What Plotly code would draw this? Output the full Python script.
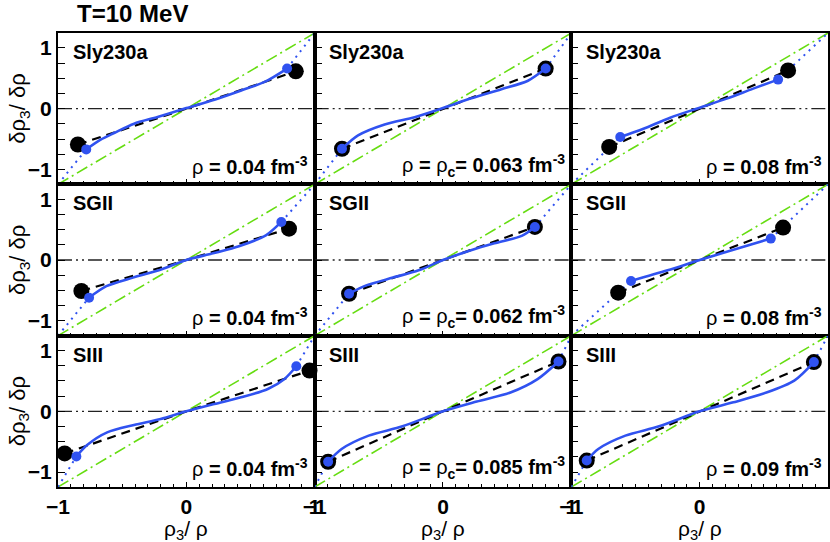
import plotly.graph_objects as go
from plotly.subplots import make_subplots

# --- panel labels ---
models = ["Sly230a", "SGII", "SIII"]
dens_text = [
    ["ρ <b>= 0.04 fm<sup>-3</sup></b>", "ρ <b>=</b> ρ<b><sub>c</sub>= 0.063 fm<sup>-3</sup></b>", "ρ <b>= 0.08 fm<sup>-3</sup></b>"],
    ["ρ <b>= 0.04 fm<sup>-3</sup></b>", "ρ <b>=</b> ρ<b><sub>c</sub>= 0.062 fm<sup>-3</sup></b>", "ρ <b>= 0.08 fm<sup>-3</sup></b>"],
    ["ρ <b>= 0.04 fm<sup>-3</sup></b>", "ρ <b>=</b> ρ<b><sub>c</sub>= 0.085 fm<sup>-3</sup></b>", "ρ <b>= 0.09 fm<sup>-3</sup></b>"],
]

# --- reference lines ---
Y_LIM = 1.245
green_x = [-1, 1]
green_y = [-1.245, 1.245]
zero_x = [-1, 1]
zero_y = [0, 0]

# --- blue curves (solid) per panel ---
sly_a_x = [-0.78, -0.668, -0.563, -0.407, -0.224, 0, 0.219, 0.428, 0.61, 0.785]
sly_a_y = [-0.67, -0.51, -0.40, -0.247, -0.137, 0.01, 0.148, 0.30, 0.44, 0.66]
sly_b_x = [-0.787, -0.662, -0.455, -0.221, 0, 0.221, 0.455, 0.662, 0.8]
sly_b_y = [-0.66, -0.44, -0.26, -0.14, 0.01, 0.17, 0.32, 0.46, 0.66]
sly_c_x = [-0.619, -0.438, -0.23, 0, 0.21, 0.417, 0.611]
sly_c_y = [-0.467, -0.33, -0.148, 0.016, 0.165, 0.33, 0.478]

sg_a_x = [-0.758, -0.623, -0.416, -0.208, 0, 0.208, 0.416, 0.623, 0.74]
sg_a_y = [-0.62, -0.43, -0.29, -0.165, 0, 0.11, 0.23, 0.41, 0.626]
sg_b_x = [-0.732, -0.598, -0.39, -0.19, 0, 0.2, 0.4, 0.613, 0.716]
sg_b_y = [-0.555, -0.418, -0.29, -0.17, 0, 0.148, 0.275, 0.396, 0.544]
sg_c_x = [-0.535, -0.25, 0, 0.25, 0.554]
sg_c_y = [-0.346, -0.17, 0, 0.16, 0.352]

s3_a_x = [-0.857, -0.773, -0.617, -0.408, -0.2, 0, 0.218, 0.426, 0.635, 0.765, 0.857]
s3_a_y = [-0.742, -0.555, -0.346, -0.225, -0.126, 0, 0.12, 0.23, 0.368, 0.533, 0.742]
s3_b_x = [-0.895, -0.79, -0.579, -0.316, 0, 0.263, 0.526, 0.737, 0.9]
s3_b_y = [-0.83, -0.62, -0.40, -0.247, 0, 0.16, 0.31, 0.53, 0.82]
s3_c_x = [-0.88, -0.79, -0.579, -0.316, 0, 0.263, 0.526, 0.737, 0.89]
s3_c_y = [-0.81, -0.62, -0.40, -0.247, 0, 0.148, 0.313, 0.505, 0.81]

# --- big black points (low / high) per panel ---
sly_pts_x = [[-0.845, 0.853], [-0.787, 0.8], [-0.705, 0.689]]
sly_pts_y = [[-0.59, 0.615], [-0.66, 0.66], [-0.63, 0.63]]
sg_pts_x = [[-0.818, 0.8], [-0.732, 0.716], [-0.635, 0.65]]
sg_pts_y = [[-0.51, 0.516], [-0.555, 0.544], [-0.538, 0.533]]
s3_pts_x = [[-0.948, 0.96], [-0.895, 0.9], [-0.88, 0.89]]
s3_pts_y = [[-0.692, 0.67], [-0.83, 0.82], [-0.81, 0.81]]

curves_x = [[sly_a_x, sly_b_x, sly_c_x], [sg_a_x, sg_b_x, sg_c_x], [s3_a_x, s3_b_x, s3_c_x]]
curves_y = [[sly_a_y, sly_b_y, sly_c_y], [sg_a_y, sg_b_y, sg_c_y], [s3_a_y, s3_b_y, s3_c_y]]
pts_x = [sly_pts_x, sg_pts_x, s3_pts_x]
pts_y = [sly_pts_y, sg_pts_y, s3_pts_y]

BLUE = "#3052f0"
GREEN = "#66dd11"
FONT = "Liberation Sans, Arial, sans-serif"

fig = make_subplots(rows=3, cols=3, horizontal_spacing=0, vertical_spacing=0)

for r in range(3):
    for c in range(3):
        row, col = r + 1, c + 1
        bx, by = curves_x[r][c], curves_y[r][c]
        px_, py_ = pts_x[r][c], pts_y[r][c]

        # y = 0 dash-dot-dot line
        fig.add_trace(go.Scatter(x=zero_x, y=zero_y, mode="lines",
                                 line=dict(color="#222222", width=1.3, dash="14px,4px,2px,4px,2px,4px")),
                      row=row, col=col)
        # green dash-dot diagonal
        fig.add_trace(go.Scatter(x=green_x, y=green_y, mode="lines",
                                 line=dict(color=GREEN, width=1.6, dash="12px,4px,2px,4px")),
                      row=row, col=col)
        # blue dotted extension to corners
        fig.add_trace(go.Scatter(x=[green_x[0], bx[0]], y=[green_y[0], by[0]], mode="lines",
                                 line=dict(color=BLUE, width=2, dash="2px,5px")),
                      row=row, col=col)
        fig.add_trace(go.Scatter(x=[bx[-1], green_x[1]], y=[by[-1], green_y[1]], mode="lines",
                                 line=dict(color=BLUE, width=2, dash="2px,5px")),
                      row=row, col=col)
        # black dashed through origin
        fig.add_trace(go.Scatter(x=[px_[0], 0, px_[1]], y=[py_[0], 0, py_[1]], mode="lines",
                                 line=dict(color="black", width=2.2, dash="9px,6px")),
                      row=row, col=col)
        # big black points
        fig.add_trace(go.Scatter(x=px_, y=py_, mode="markers", cliponaxis=False,
                                 marker=dict(color="black", size=16)),
                      row=row, col=col)
        # blue solid curve
        fig.add_trace(go.Scatter(x=bx, y=by, mode="lines",
                                 line=dict(color=BLUE, width=2.6, shape="spline", smoothing=0.8)),
                      row=row, col=col)
        # blue end points
        fig.add_trace(go.Scatter(x=[bx[0], bx[-1]], y=[by[0], by[-1]], mode="markers", cliponaxis=False,
                                 marker=dict(color=BLUE, size=10)),
                      row=row, col=col)

        idx = r * 3 + c + 1
        xr = "x" if idx == 1 else f"x{idx}"
        yr = "y" if idx == 1 else f"y{idx}"
        fig.add_annotation(x=-0.9, y=0.93, xref=xr, yref=yr, text=models[r],
                           showarrow=False, xanchor="left", yanchor="middle",
                           font=dict(size=20, color="black", family=FONT, weight="bold"))
        fig.add_annotation(x=0.965, y=-0.93, xref=xr, yref=yr, text=dens_text[r][c],
                           showarrow=False, xanchor="right", yanchor="middle",
                           font=dict(size=20, color="black", family=FONT))

        fig.update_xaxes(range=[-1, 1], tickmode="linear", tick0=-1, dtick=1,
                         ticks="inside", ticklen=5, tickwidth=1.2, tickcolor="black",
                         minor=dict(dtick=0.1, tick0=-1, ticks="inside", ticklen=3, tickcolor="black"),
                         showgrid=False, zeroline=False, showline=True, mirror=True,
                         linecolor="black", linewidth=2,
                         showticklabels=(r == 2),
                         tickfont=dict(size=21, color="black", family=FONT, weight="bold"),
                         row=row, col=col)
        fig.update_yaxes(range=[-Y_LIM, Y_LIM], tickmode="linear", tick0=0, dtick=1,
                         ticks="inside", ticklen=7, tickwidth=1.2, tickcolor="black",
                         minor=dict(dtick=0.25, tick0=0, ticks="inside", ticklen=7, tickcolor="black"),
                         showgrid=False, zeroline=False, showline=True, mirror=True,
                         linecolor="black", linewidth=2,
                         showticklabels=(c == 0),
                         tickfont=dict(size=21, color="black", family=FONT, weight="bold"),
                         row=row, col=col)

# --- axis titles and header ---
for r in range(3):
    fig.add_annotation(x=0, y=1 - (r + 0.5) / 3, xref="paper", yref="paper", xshift=-39,
                       xanchor="center", yanchor="middle",
                       text="δρ<sub>3</sub>/ δρ", textangle=-90, showarrow=False,
                       font=dict(size=22, color="black", family=FONT))
for c in range(3):
    fig.add_annotation(x=(c + 0.5) / 3, y=0, xref="paper", yref="paper", yshift=-43,
                       xanchor="center", yanchor="middle",
                       text="ρ<sub>3</sub>/ ρ", showarrow=False,
                       font=dict(size=21, color="black", family=FONT))
fig.add_annotation(x=17 / 770, y=1, xref="paper", yref="paper", yshift=20,
                   xanchor="left", yanchor="middle", text="T=10 MeV", showarrow=False,
                   font=dict(size=24, color="black", family=FONT, weight="bold"))

fig.update_layout(
    width=830, height=542,
    margin=dict(l=58, r=2, t=33, b=55, autoexpand=False),
    showlegend=False,
    plot_bgcolor="white", paper_bgcolor="white",
)

fig.write_html("out.html", config={"displayModeBar": False},
               post_script="document.body.style.margin='0';")
